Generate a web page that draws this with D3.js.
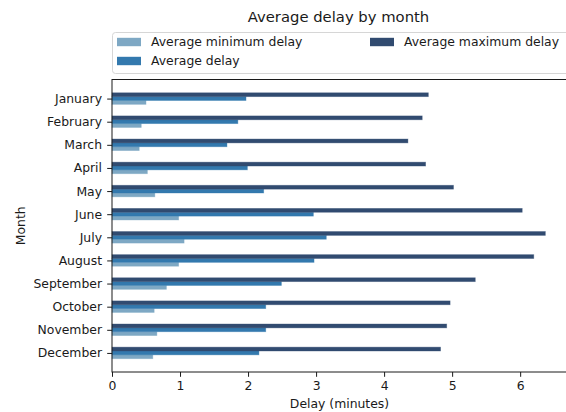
<!DOCTYPE html>
<html>
<head>
<meta charset="utf-8">
<script src="https://cdn.jsdelivr.net/npm/d3@7"></script>
<style>
  html, body { margin: 0; padding: 0; background: #fff; }
  svg { display: block; font-family: "DejaVu Sans", sans-serif; }
</style>
</head>
<body>
<svg id="chart" width="566" height="412"></svg>
<script>
// Months shown on the vertical axis, top to bottom
const months = ["January", "February", "March", "April", "May", "June",
  "July", "August", "September", "October", "November", "December"];

// Delay figures in minutes, one value per month
const minDelay = [0.50, 0.43, 0.40, 0.52, 0.63, 0.98, 1.06, 0.98, 0.80, 0.62, 0.66, 0.60];
const avgDelay = [1.97, 1.85, 1.69, 1.99, 2.23, 2.96, 3.15, 2.97, 2.49, 2.26, 2.26, 2.16];
const maxDelay = [4.65, 4.56, 4.35, 4.61, 5.02, 6.03, 6.37, 6.20, 5.34, 4.97, 4.92, 4.83];

const xTicks = [0, 1, 2, 3, 4, 5, 6];

// Series in legend order; slot is the bar's place inside a month's group
const series = [
  { name: "Average minimum delay", values: minDelay, color: "#7ea8c4", slot: 1 },
  { name: "Average delay",         values: avgDelay, color: "#3379ae", slot: 0 },
  { name: "Average maximum delay", values: maxDelay, color: "#314b70", slot: -1 }
];

const svg = d3.select("#chart");
const plotL = 112, plotR = 567, plotT = 79.5, plotB = 372;
const ink = "#1a1a1a";
const fontSize = "12.4px";

const groupWidth = 0.5;
const barW = groupWidth / series.length;

const xMax = d3.max(maxDelay) * 1.05;
const x = d3.scaleLinear().domain([0, xMax]).range([plotL, plotR]);

const pad = (groupWidth / 2 + (months.length - 1 + groupWidth) * 0.05);
const y = d3.scaleLinear()
  .domain([-pad, months.length - 1 + pad])
  .range([plotT, plotB]);

// Bars, each with a soft edge of its own colour
series.forEach(s => {
  svg.append("g")
    .selectAll("rect")
    .data(s.values)
    .join("rect")
    .attr("x", x(0))
    .attr("y", (d, i) => y(i + s.slot * barW - barW / 2))
    .attr("width", d => x(d) - x(0))
    .attr("height", y(barW) - y(0))
    .attr("fill", s.color)
    .attr("stroke", s.color)
    .attr("stroke-opacity", 0.45)
    .attr("stroke-width", 0.8);
});

// Axes
const xAxis = d3.axisBottom(x).tickValues(xTicks).tickFormat(d3.format("d"))
  .tickSize(4.8).tickPadding(4.6);
const gx = svg.append("g").attr("transform", `translate(0,${plotB})`).call(xAxis);

const yAxis = d3.axisLeft(y).tickValues(d3.range(months.length))
  .tickFormat(i => months[i]).tickSize(4.8).tickPadding(5.2);
const gy = svg.append("g").attr("transform", `translate(${plotL},0)`).call(yAxis);

[gx, gy].forEach(g => {
  g.select(".domain").remove();
  g.selectAll("line").attr("stroke", ink).attr("stroke-width", 1);
  g.selectAll("text").attr("fill", ink).style("font-size", fontSize)
    .style("font-family", "'DejaVu Sans', sans-serif");
});

// Spines
svg.append("rect").attr("x", plotL).attr("y", plotT)
  .attr("width", plotR - plotL).attr("height", plotB - plotT)
  .attr("fill", "none").attr("stroke", ink).attr("stroke-width", 1);

// Titles
svg.append("text").attr("x", (plotL + plotR) / 2 - 1).attr("y", 22)
  .attr("text-anchor", "middle").style("font-size", "14.8px").attr("fill", ink)
  .text("Average delay by month");

svg.append("text").attr("x", (plotL + plotR) / 2).attr("y", 408)
  .attr("text-anchor", "middle").style("font-size", fontSize).attr("fill", ink)
  .text("Delay (minutes)");

svg.append("text").attr("transform", `translate(25,${(plotT + plotB) / 2}) rotate(-90)`)
  .attr("text-anchor", "middle").style("font-size", fontSize).attr("fill", ink)
  .text("Month");

// Legend, two columns spanning the width of the plot
const legend = svg.append("g");
legend.append("rect").attr("x", plotL + 0.5).attr("y", 32.5)
  .attr("width", plotR - plotL + 5).attr("height", 41).attr("rx", 3)
  .attr("fill", "#fff").attr("stroke", "#d6d6d6").attr("stroke-width", 1);

const legendPos = [
  { x: 117, y: 42 },
  { x: 117, y: 61 },
  { x: 370, y: 42 }
];
series.forEach((s, i) => {
  const p = legendPos[i];
  legend.append("rect").attr("x", p.x).attr("y", p.y - 4.2)
    .attr("width", 24).attr("height", 8.4).attr("fill", s.color);
  legend.append("text").attr("x", p.x + 34).attr("y", p.y + 4.4)
    .style("font-size", fontSize).attr("fill", ink).text(s.name);
});
</script>
</body>
</html>
